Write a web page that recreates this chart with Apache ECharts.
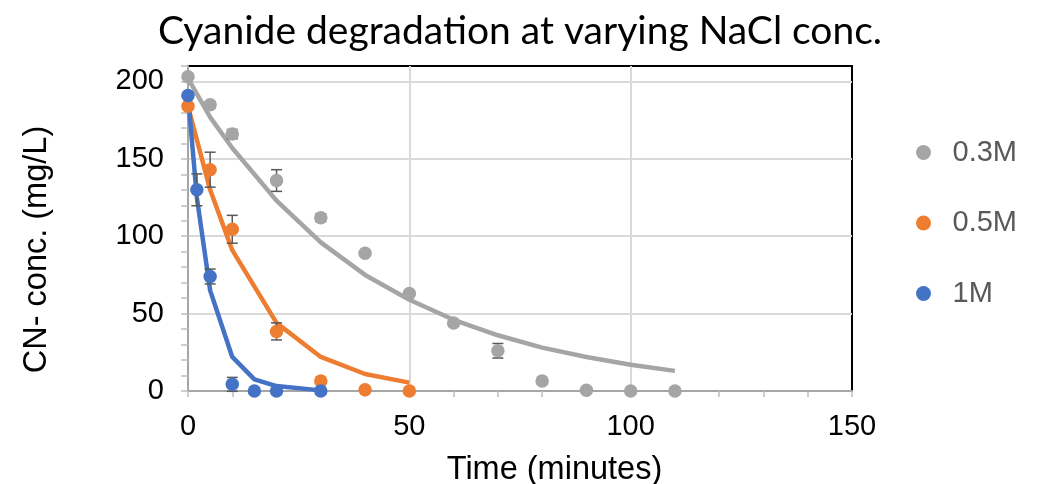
<!DOCTYPE html>
<html>
<head>
<meta charset="utf-8">
<script src="https://cdn.jsdelivr.net/npm/echarts@6/dist/echarts.min.js"></script>
<style>html,body{margin:0;padding:0;background:#fff;}#c{width:1040px;height:484px;}</style>
</head>
<body>
<div id="c"></div>
<script>
// Data
const seriesNames = ['0.3M', '0.5M', '1M'];
const timeGray = [0, 5, 10, 20, 30, 40, 50, 60, 70, 80, 90, 100, 110];
const gray = [203, 185, 166, 136, 112, 89, 63, 44, 26, 6.5, 0.5, 0, 0];
const grayErr = [0, 2, 3, 7, 2.5, 0, 0, 0, 4.7, 0, 0, 0, 0];
const grayFit = [202, 177, 157, 123, 96, 75, 59, 46, 36, 28, 22, 17, 13];

const timeOrange = [0, 5, 10, 20, 30, 40, 50];
const orange = [184, 143, 104.5, 38.5, 6.5, 0.8, 0];
const orangeErr = [0, 11.3, 9, 5.5, 0, 0, 0];
const orangeFit = [184, 130, 91, 44, 22, 11, 5.4];

const timeBlue = [0, 2, 5, 10, 15, 20, 30];
const blue = [191, 130, 74, 4.3, 0, 0, 0];
const blueErr = [0, 10.3, 4.8, 4.5, 0, 0, 0];
const blueFit = [191, 125, 65, 22, 7.5, 3.2, 0.4];

const xTickLabels = [0, 50, 100, 150];
const yTickLabels = [0, 50, 100, 150, 200];

const colors = ['#a5a5a5', '#ed7d31', '#4472c4'];

function pairs(xs, ys) { return xs.map((x, i) => [x, ys[i]]); }
function errs(xs, ys, es) {
  const out = [];
  xs.forEach((x, i) => { if (es[i] > 0) out.push([x, ys[i] - es[i], ys[i] + es[i]]); });
  return out;
}

const groups = [
  { t: timeGray, v: gray, e: grayErr, f: grayFit },
  { t: timeOrange, v: orange, e: orangeErr, f: orangeFit },
  { t: timeBlue, v: blue, e: blueErr, f: blueFit }
];

const series = [];
groups.forEach((g, i) => {
  series.push({
    name: seriesNames[i] + ' fit', type: 'line', data: pairs(g.t, g.f),
    showSymbol: false, symbol: 'none', smooth: false,
    lineStyle: { color: colors[i], width: 4.5 }, z: 2, silent: true
  });
});
groups.forEach((g, i) => {
  series.push({
    name: seriesNames[i] + ' err', type: 'custom', z: 3, silent: true,
    data: errs(g.t, g.v, g.e),
    renderItem: function (params, api) {
      const x = api.value(0), lo = api.value(1), hi = api.value(2);
      const p1 = api.coord([x, lo]), p2 = api.coord([x, hi]);
      const hw = 5.5;
      const st = { stroke: '#595959', lineWidth: 1.5 };
      return { type: 'group', children: [
        { type: 'line', shape: { x1: p1[0], y1: p1[1], x2: p2[0], y2: p2[1] }, style: st },
        { type: 'line', shape: { x1: p1[0] - hw, y1: p1[1], x2: p1[0] + hw, y2: p1[1] }, style: st },
        { type: 'line', shape: { x1: p2[0] - hw, y1: p2[1], x2: p2[0] + hw, y2: p2[1] }, style: st }
      ]};
    }
  });
});
groups.forEach((g, i) => {
  series.push({
    name: seriesNames[i], type: 'scatter', data: pairs(g.t, g.v),
    symbol: 'circle', symbolSize: 13.5, itemStyle: { color: colors[i], opacity: 1 }, z: 4
  });
});

const T = 'rgba(0,0,0,0)', G = '#d9d9d9';
// grid lines every 50 only; the last line on each axis is left to the black border
const xSplitColors = [G, T, T, T, T, G, T, T, T, T, G, T, T, T, T, T];
const ySplitColors = [G, T, T, T, T, G, T, T, T, T, G, T, T, T, T, G, T, T, T, T, G, T];

const option = {
  animation: false,
  backgroundColor: '#ffffff',
  title: {
    text: 'Cyanide degradation at varying NaCl conc.',
    left: 'center', top: 12, padding: [0, 0, 0, 11],
    textStyle: { fontFamily: 'Lato', fontWeight: 'normal', fontSize: 39, color: '#000' }
  },
  legend: {
    orient: 'vertical', left: 911, top: 133, itemGap: 41.5,
    itemWidth: 48, itemHeight: 15, icon: 'circle',
    data: seriesNames,
    textStyle: { fontFamily: 'Liberation Sans', fontSize: 29, color: '#595959' }
  },
  grid: { left: 188, top: 66, width: 664, height: 325, outerBoundsMode: 'none', containLabel: false,
    show: true, borderColor: '#000', borderWidth: 2, backgroundColor: 'transparent' },
  xAxis: {
    type: 'value', min: 0, max: 150, interval: 10,
    name: 'Time (minutes)', nameLocation: 'middle', nameGap: 63,
    nameTextStyle: { fontFamily: 'Liberation Sans', fontSize: 32.5, color: '#000', padding: [0, 0, 0, 69] },
    axisLine: { show: true, lineStyle: { color: '#a6a6a6', width: 2 } },
    axisTick: { show: true, length: 6, lineStyle: { color: '#bfbfbf', width: 1.5 } },
    axisLabel: { margin: 21, fontFamily: 'Liberation Sans', fontSize: 29, color: '#000',
      formatter: v => (xTickLabels.indexOf(v) >= 0 ? String(v) : '') },
    splitLine: { show: true, lineStyle: { color: xSplitColors, width: 2 } }
  },
  yAxis: {
    type: 'value', min: 0, max: 210, interval: 10,
    name: 'CN- conc. (mg/L)', nameLocation: 'middle', nameGap: 134,
    nameTextStyle: { fontFamily: 'Liberation Sans', fontSize: 32.5, color: '#000', padding: [0, 42, 0, 0] },
    axisLine: { show: true, lineStyle: { color: '#a6a6a6', width: 2 } },
    axisTick: { show: true, length: 7, lineStyle: { color: '#bfbfbf', width: 1.5 } },
    axisLabel: { margin: 24, fontFamily: 'Liberation Sans', fontSize: 29, color: '#000',
      formatter: v => (yTickLabels.indexOf(v) >= 0 ? String(v) : '') },
    splitLine: { show: true, lineStyle: { color: ySplitColors, width: 2 } }
  },
  series: series
};

const chart = echarts.init(document.getElementById('c'), null, { renderer: 'canvas' });
chart.setOption(option);
</script>
</body>
</html>
